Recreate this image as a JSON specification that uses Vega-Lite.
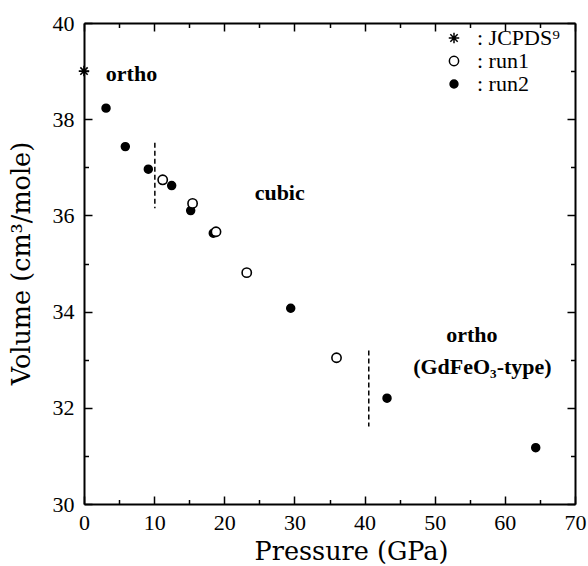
{
  "$schema": "https://vega.github.io/schema/vega-lite/v6.json",
  "width": 491,
  "height": 481,
  "autosize": {"type": "none"},
  "padding": {"left": 84, "top": 23, "right": 13, "bottom": 62},
  "background": "white",
  "datasets": {
    "pts": [
      {"series": "run2", "P": 3.14, "V": 38.23},
      {"series": "run2", "P": 5.89, "V": 37.43},
      {"series": "run2", "P": 9.17, "V": 36.96},
      {"series": "run2", "P": 12.5, "V": 36.62},
      {"series": "run2", "P": 15.21, "V": 36.1},
      {"series": "run2", "P": 18.43, "V": 35.63},
      {"series": "run2", "P": 29.47, "V": 34.07},
      {"series": "run2", "P": 43.2, "V": 32.2},
      {"series": "run2", "P": 64.4, "V": 31.17},
      {"series": "run1", "P": 11.22, "V": 36.74},
      {"series": "run1", "P": 15.48, "V": 36.25},
      {"series": "run1", "P": 18.82, "V": 35.66},
      {"series": "run1", "P": 23.2, "V": 34.81},
      {"series": "run1", "P": 36.0, "V": 33.04},
      {"series": "JCPDS", "P": 0, "V": 39.0}
    ],
    "dashes": [
      {"P": 10.1, "V1": 37.51, "V2": 36.15},
      {"P": 40.6, "V1": 33.19, "V2": 31.61}
    ],
    "labels": [
      {"label": "ortho", "P": 6.77, "V": 38.94},
      {"label": "cubic", "P": 27.9, "V": 36.47},
      {"label": "ortho", "P": 55.3, "V": 33.51},
      {"label": "(GdFeO₃-type)", "P": 56.8, "V": 32.85}
    ]
  },
  "resolve": {"axis": {"x": "independent", "y": "independent"}},
  "layer": [
    {
      "data": {"name": "pts"},
      "transform": [{"filter": "datum.series != 'JCPDS'"}],
      "mark": {"type": "point", "filled": true, "stroke": "black", "strokeWidth": 1.6, "opacity": 1},
      "encoding": {
        "x": {"field": "P", "type": "quantitative", "scale": {"domain": [0, 70], "nice": false, "zero": false},
          "axis": {"orient": "bottom", "values": [0, 10, 20, 30, 40, 50, 60, 70], "tickSize": -8, "labelPadding": 16, "title": "Pressure (GPa)", "titleX": 267, "titleY": 55, "titleBaseline": "alphabetic", "titleAlign": "center", "labelFlush": false}},
        "y": {"field": "V", "type": "quantitative", "scale": {"domain": [30, 40], "nice": false, "zero": false},
          "axis": {"orient": "left", "values": [30, 32, 34, 36, 38, 40], "tickSize": -8, "labelPadding": 18, "title": "Volume (cm³/mole)", "titleX": -63, "titleY": 240, "titleBaseline": "middle", "titleAlign": "center", "titleAngle": -90, "labelFlush": false}},
        "fill": {"field": "series", "type": "nominal", "scale": {"domain": ["JCPDS", "run1", "run2"], "range": ["black", "white", "black"]},
          "legend": {"orient": "none", "legendX": 359, "legendY": 4, "title": null, "padding": 0, "labelFont": "Liberation Serif", "labelFontSize": 22, "labelColor": "black", "labelOffset": 12, "rowPadding": 1, "symbolStrokeColor": "black", "symbolStrokeWidth": 1.5,
            "labelExpr": "datum.label == 'JCPDS' ? ': JCPDS⁹' : ': ' + datum.label"}},
        "shape": {"field": "series", "type": "nominal", "scale": {"domain": ["JCPDS", "run1", "run2"], "range": ["M-1,0L1,0M0,-1L0,1M-0.7,-0.7L0.7,0.7M-0.7,0.7L0.7,-0.7", "circle", "circle"]}},
        "size": {"field": "series", "type": "nominal", "scale": {"domain": ["JCPDS", "run1", "run2"], "range": [110, 62, 100]}}
      }
    },
    {
      "data": {"name": "dashes"},
      "mark": {"type": "rule", "color": "black", "strokeWidth": 1.5, "strokeDash": [5, 3]},
      "encoding": {
        "x": {"field": "P", "type": "quantitative",
          "axis": {"orient": "bottom", "values": [5, 15, 25, 35, 45, 55, 65], "tickSize": -4.5, "labels": false, "domain": false, "title": null}},
        "y": {"field": "V1", "type": "quantitative",
          "axis": {"orient": "left", "values": [31, 33, 35, 37, 39], "tickSize": -4.5, "labels": false, "domain": false, "title": null}},
        "y2": {"field": "V2"}
      }
    },
    {
      "data": {"name": "labels"},
      "mark": {"type": "text", "font": "Liberation Serif", "fontSize": 22, "fontWeight": "bold", "color": "black", "align": "center", "baseline": "middle"},
      "encoding": {
        "x": {"field": "P", "type": "quantitative",
          "axis": {"orient": "top", "values": [0, 10, 20, 30, 40, 50, 60, 70], "tickSize": -8, "labels": false, "domain": true, "title": null}},
        "y": {"field": "V", "type": "quantitative",
          "axis": {"orient": "right", "values": [30, 32, 34, 36, 38, 40], "tickSize": -8, "labels": false, "domain": true, "title": null}},
        "text": {"field": "label"}
      }
    },
    {
      "data": {"name": "pts"},
      "transform": [{"filter": "datum.series == 'JCPDS'"}],
      "mark": {"type": "point", "filled": true, "stroke": "black", "strokeWidth": 1.6, "opacity": 1},
      "encoding": {
        "x": {"field": "P", "type": "quantitative",
          "axis": {"orient": "top", "values": [5, 15, 25, 35, 45, 55, 65], "tickSize": -4.5, "labels": false, "domain": false, "title": null}},
        "y": {"field": "V", "type": "quantitative",
          "axis": {"orient": "right", "values": [31, 33, 35, 37, 39], "tickSize": -4.5, "labels": false, "domain": false, "title": null}},
        "fill": {"field": "series", "type": "nominal"},
        "shape": {"field": "series", "type": "nominal"},
        "size": {"field": "series", "type": "nominal"}
      }
    }
  ],
  "config": {
    "view": {"stroke": null},
    "axis": {"grid": false, "domainColor": "black", "domainWidth": 2, "tickColor": "black", "tickWidth": 1.5, "labelColor": "black", "titleColor": "black", "labelFont": "Liberation Serif", "labelFontSize": 22, "titleFont": "DejaVu Serif", "titleFontSize": 25.5, "titleFontWeight": "normal"}
  }
}
